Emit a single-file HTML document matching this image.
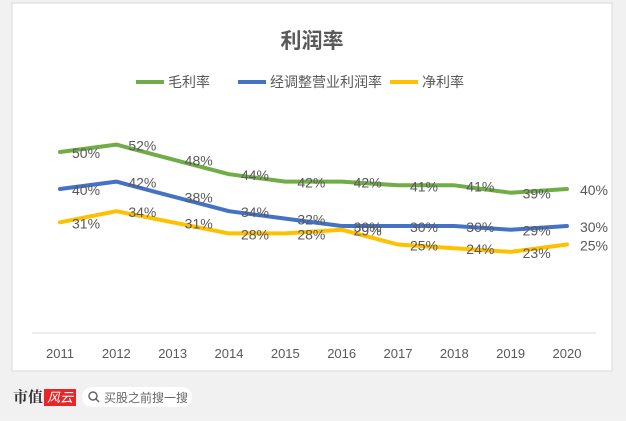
<!DOCTYPE html>
<html><head><meta charset="utf-8"><style>
body{margin:0;width:626px;height:416px;background:#f2f2f2;overflow:hidden;font-family:"Liberation Sans","Noto Sans CJK SC",sans-serif}
</style></head><body>
<svg width="626" height="416">
<rect x="0" y="0" width="626" height="416" fill="#f1f1f1"/>
<rect x="12" y="3" width="600" height="368" fill="#fff" stroke="#d9d9d9"/>
<text x="312" y="48" text-anchor="middle" font-size="21" font-weight="bold" fill="#595959" font-family="Liberation Sans,Noto Sans CJK SC,sans-serif">利润率</text>
<g id="legend" font-size="14" fill="#595959" font-family="Liberation Sans,Noto Sans CJK SC,sans-serif"></g>
<line x1="32" y1="333" x2="596" y2="333" stroke="#d9d9d9"/>
<g id="xt" font-size="13" fill="#595959"></g>
<g id="series"></g>
<g>
<text x="13" y="402" font-size="15" font-weight="bold" fill="#333" font-family="Noto Serif CJK SC,serif">市值</text>
<rect x="44" y="389" width="32" height="17" fill="#e8262a"/>
<text x="47" y="402" font-size="13" fill="#fff" font-style="italic" font-family="Noto Sans CJK SC,sans-serif">风云</text>
<rect x="82" y="387" width="110" height="20" rx="10" fill="#fff"/>
<circle cx="93" cy="396" r="4" fill="none" stroke="#666" stroke-width="1.5"/>
<line x1="96" y1="399" x2="99" y2="402" stroke="#666" stroke-width="1.5"/>
<text x="104" y="402" font-size="12" fill="#666" font-family="Noto Sans CJK SC,sans-serif">买股之前搜一搜</text>
</g>
</svg>
<script>
const years=["2011","2012","2013","2014","2015","2016","2017","2018","2019","2020"];
const gross=[50,52,48,44,42,42,41,41,39,40];
const operating=[40,42,38,34,32,30,30,30,29,30];
const net=[31,34,31,28,28,29,25,24,23,25];
const names=["毛利率","经调整营业利润率","净利率"];
const colors=["#70ad47","#4472c4","#ffc000"];
const NS="http://www.w3.org/2000/svg";
const xs=i=>60+i*56.33;
const ys=v=>152+(50-v)*3.7;
function mk(t,a,p){const e=document.createElementNS(NS,t);for(const k in a)e.setAttribute(k,a[k]);p.appendChild(e);return e;}
const xt=document.getElementById('xt');
years.forEach((y,i)=>{const t=mk('text',{x:xs(i),y:358,'text-anchor':'middle'},xt);t.textContent=y;

});
const sg=document.getElementById('series');
[gross,operating,net].forEach((d,s)=>{
 const p=mk('polyline',{points:d.map((v,i)=>xs(i)+','+ys(v)).join(' '),fill:'none',stroke:colors[s],'stroke-width':4,'stroke-linejoin':'round','stroke-linecap':'round'},sg);
 
 
 d.forEach((v,i)=>{const t=mk('text',{x:xs(i)+(i==9?13:12),y:ys(v)+6,'font-size':14,fill:'#595959','font-family':'Liberation Sans,sans-serif'},sg);t.textContent=v+'%';
 
 });
});
const lg=document.getElementById('legend');
const lx=[136,238,390];
names.forEach((n,s)=>{const g=mk('g',{},lg);
 
 
 mk('line',{x1:lx[s],y1:82,x2:lx[s]+28,y2:82,stroke:colors[s],'stroke-width':4},g);
 const t=mk('text',{x:lx[s]+32,y:87},g);t.textContent=n;});
</script>
</body></html>
